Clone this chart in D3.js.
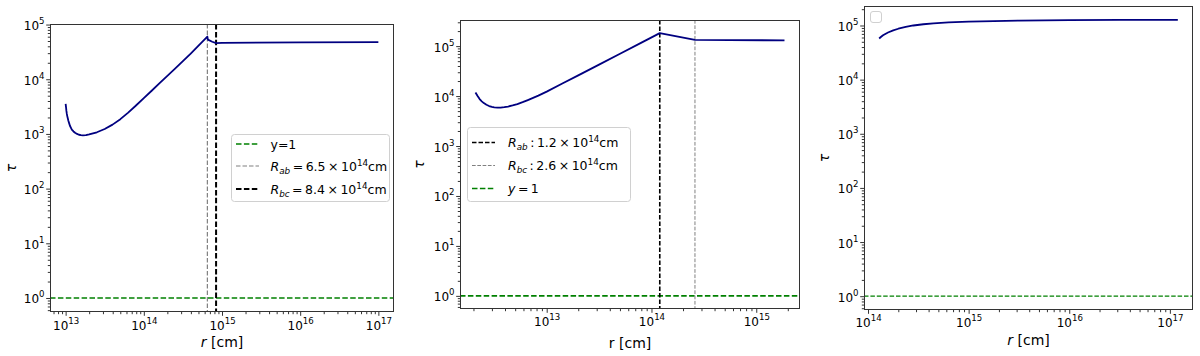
<!DOCTYPE html>
<html>
<head>
<meta charset="utf-8">
<script src="https://cdn.jsdelivr.net/npm/d3@7"></script>
<style>
  html, body { margin: 0; padding: 0; background: #fff; }
  svg { display: block; font-family: "DejaVu Sans", sans-serif; }
</style>
</head>
<body>
<svg id="chart" width="1200" height="356"></svg>
<script>
// ---------------- data ----------------
// Panel 1
const p1R   = [1.0e13, 1.012e13, 1.023e13, 1.035e13, 1.047e13, 1.065e13, 1.084e13, 1.11e13, 1.135e13, 1.17e13,
               1.2e13, 1.26e13, 1.32e13, 1.4e13, 1.48e13, 1.57e13, 1.66e13, 1.82e13, 2.0e13, 2.51e13,
               3.16e13, 3.98e13, 5.01e13, 6.31e13, 7.94e13, 1.0e14, 1.26e14, 1.58e14, 2.0e14, 2.51e14,
               3.16e14, 3.98e14, 5.01e14, 6.5e14, 6.6e14, 7.5e14, 8.4e14, 1.0e15, 1.0e16, 1.0e17];
const p1Tau = [3550, 3050, 2630, 2350, 2140, 1930, 1740, 1560, 1410, 1290,
               1200, 1110, 1050, 1000, 966, 950, 944, 948, 977, 1072,
               1230, 1479, 1862, 2455, 3311, 4519, 6166, 8414, 11482, 15668,
               21380, 29512, 41210, 60256, 53000, 48500, 45700, 46200, 47300, 47900];
const p1VLines = [6.5e14, 8.4e14];
const p1XTicks = [1e13, 1e14, 1e15, 1e16, 1e17];

// Panel 2
const p2R   = [2.09e12, 2.19e12, 2.29e12, 2.4e12, 2.51e12, 2.66e12, 2.82e12, 3.0e12, 3.16e12, 3.39e12,
               3.63e12, 3.94e12, 4.27e12, 4.73e12, 5.25e12, 5.89e12, 6.61e12, 7.41e12, 8.32e12, 1.0e13,
               1.41e13, 2.0e13, 3.16e13, 5.01e13, 7.94e13, 1.2e14, 2.6e14, 1.86e15];
const p2Tau = [11750, 10000, 8710, 7850, 7240, 6700, 6310, 6080, 5960, 5890,
               5890, 5990, 6170, 6500, 6920, 7550, 8320, 9200, 10230, 12300,
               17800, 26000, 42700, 70500, 116000, 182000, 133400, 130300];
const p2VLines = [1.2e14, 2.6e14];
const p2XTicks = [1e13, 1e14, 1e15];

// Panel 3
const p3R   = [1.29e14, 1.35e14, 1.41e14, 1.5e14, 1.58e14, 1.78e14, 2.0e14, 2.37e14, 2.82e14, 3.55e14,
               4.47e14, 6.31e14, 1.0e15, 1.78e15, 3.16e15, 1.0e16, 3.16e16, 1.2e17];
const p3Tau = [57500, 62000, 66100, 70500, 74100, 81000, 87100, 94000, 100000, 105500,
               109600, 114000, 117500, 120800, 123000, 125900, 126900, 127400];
const p3XTicks = [1e14, 1e15, 1e16, 1e17];

const yTicks = [1, 10, 100, 1e3, 1e4, 1e5];
const hLineValue = 1;

// ---------------- layout ----------------
const svg = d3.select("#chart");
const panels = [
  { x0: 50, x1: 394, y0: 24, y1: 312, xd: [10 ** 12.8, 10 ** 17.2], yd: [10 ** -0.256, 10 ** 5.01],
    r: p1R, tau: p1Tau, xTicks: p1XTicks, xLabBase: 17.5, xTitleY: 346.5, italicR: true, yTitleX: 15.5 },
  { x0: 460, x1: 800, y0: 20, y1: 309, xd: [10 ** 12.1725, 10 ** 15.4175], yd: [10 ** -0.263, 10 ** 5.523],
    r: p2R, tau: p2Tau, xTicks: p2XTicks, xLabBase: 16.5, xTitleY: 347.5, italicR: false, yTitleX: 424 },
  { x0: 864, x1: 1193, y0: 6, y1: 310, xd: [10 ** 13.96, 10 ** 17.23], yd: [10 ** -0.255, 10 ** 5.36],
    r: p3R, tau: p3Tau, xTicks: p3XTicks, xLabBase: 16.8, xTitleY: 345, italicR: true, yTitleX: 829 }
];

const AX = "#333";
function minorTicks(dom) {
  const out = [];
  const a = Math.floor(Math.log10(dom[0])), b = Math.ceil(Math.log10(dom[1]));
  for (let e = a; e <= b; e++) for (let k = 2; k <= 9; k++) {
    const v = k * 10 ** e;
    if (v >= dom[0] && v <= dom[1]) out.push(v);
  }
  return out;
}
function supLabel(sel) {
  sel.each(function (d) {
    const t = d3.select(this);
    t.text(null).attr("dy", null);
    t.append("tspan").text("10");
    t.append("tspan").attr("font-size", 8.6).attr("dy", -6).text(Math.round(Math.log10(d)));
  });
}

panels.forEach((P, i) => {
  const g = svg.append("g");
  P.x = d3.scaleLog().domain(P.xd).range([P.x0, P.x1]);
  P.y = d3.scaleLog().domain(P.yd).range([P.y1, P.y0]);
  const clipId = "clip" + i;
  svg.append("clipPath").attr("id", clipId).append("rect")
    .attr("x", P.x0).attr("y", P.y0).attr("width", P.x1 - P.x0).attr("height", P.y1 - P.y0);
  P.plot = g.append("g").attr("clip-path", `url(#${clipId})`);

  // minor ticks
  g.append("g").attr("transform", `translate(0,${P.y1})`).style("color", AX)
    .call(d3.axisBottom(P.x).tickValues(minorTicks(P.xd)).tickSize(2.2).tickSizeOuter(0).tickFormat(""))
    .call(s => s.select(".domain").remove());
  g.append("g").attr("transform", `translate(${P.x0},0)`).style("color", AX)
    .call(d3.axisLeft(P.y).tickValues(minorTicks(P.yd)).tickSize(2.2).tickSizeOuter(0).tickFormat(""))
    .call(s => s.select(".domain").remove());

  // major x
  g.append("g").attr("transform", `translate(0,${P.y1})`).style("color", AX)
    .call(d3.axisBottom(P.x).tickValues(P.xTicks).tickSize(3.8).tickSizeOuter(0).tickFormat(d => d))
    .call(s => s.select(".domain").remove())
    .call(s => s.selectAll(".tick text").attr("y", P.xLabBase).attr("fill", "#000")
      .attr("font-size", 12).attr("font-family", "DejaVu Sans").attr("text-anchor", "middle").call(supLabel))
    .attr("font-family", null).attr("font-size", null);

  // major y
  g.append("g").attr("transform", `translate(${P.x0},0)`).style("color", AX)
    .call(d3.axisLeft(P.y).tickValues(yTicks).tickSize(3.8).tickSizeOuter(0).tickFormat(d => d))
    .call(s => s.select(".domain").remove())
    .call(s => s.selectAll(".tick text").attr("x", -5.5).attr("y", 5).attr("fill", "#000")
      .attr("font-size", 12).attr("font-family", "DejaVu Sans").attr("text-anchor", "end").call(supLabel))
    .attr("font-family", null).attr("font-size", null);

  // frame
  g.append("rect").attr("x", P.x0 + 0.5).attr("y", P.y0 + 0.5)
    .attr("width", P.x1 - P.x0 - 1).attr("height", P.y1 - P.y0 - 1)
    .attr("fill", "none").attr("stroke", AX).attr("stroke-width", 1);

  // x title
  const xt = g.append("text").attr("x", (P.x0 + P.x1) / 2).attr("y", P.xTitleY)
    .attr("text-anchor", "middle").attr("font-size", 14);
  xt.append("tspan").attr("font-style", P.italicR ? "italic" : "normal").text("r");
  xt.append("tspan").text(" [cm]");
  // y title
  g.append("text").attr("transform", `translate(${P.yTitleX},${(P.y0 + P.y1) / 2}) rotate(-90)`)
    .attr("text-anchor", "middle").attr("font-size", 14).attr("font-style", "italic").text("τ");
});

function hline(P, color, w, dash) {
  P.plot.append("line").attr("x1", P.x0).attr("x2", P.x1)
    .attr("y1", P.y(hLineValue)).attr("y2", P.y(hLineValue))
    .attr("stroke", color).attr("stroke-width", w).attr("stroke-dasharray", dash);
}
function vline(P, v, color, w, dash) {
  P.plot.append("line").attr("x1", P.x(v)).attr("x2", P.x(v))
    .attr("y1", P.y0).attr("y2", P.y1)
    .attr("stroke", color).attr("stroke-width", w).attr("stroke-dasharray", dash);
}
function curve(P) {
  const line = d3.line().x((d, i) => P.x(P.r[i])).y((d, i) => P.y(P.tau[i]));
  P.plot.append("path").attr("d", line(P.tau)).attr("fill", "none")
    .attr("stroke", "#000080").attr("stroke-width", 1.8).attr("stroke-linejoin", "round");
}

const [P1, P2, P3] = panels;
// Panel 1
hline(P1, "#008000", 1.6, "5.5,2.4");
vline(P1, p1VLines[0], "#808080", 1.2, "4.5,2");
vline(P1, p1VLines[1], "#000", 2, "5.5,2.4");
curve(P1);
// Panel 2
hline(P2, "#008000", 1.6, "5.5,2.4");
vline(P2, p2VLines[0], "#000", 1.6, "4.5,2");
vline(P2, p2VLines[1], "#808080", 1, "3.7,1.6");
curve(P2);
// Panel 3
curve(P3);
hline(P3, "#008000", 1.3, "4.5,1.9");

// ---------------- legends ----------------
function legendFrame(x, y, w, h) {
  svg.append("rect").attr("x", x + 0.5).attr("y", y + 0.5).attr("width", w).attr("height", h)
    .attr("rx", 3).attr("fill", "#fff").attr("fill-opacity", 0.8).attr("stroke", "#d0d0d0");
}
function legendEntry(hx0, hx1, ty, color, w, dash, tx, build) {
  svg.append("line").attr("x1", hx0).attr("x2", hx1).attr("y1", ty).attr("y2", ty)
    .attr("stroke", color).attr("stroke-width", w).attr("stroke-dasharray", dash);
  const t = svg.append("text").attr("x", tx).attr("y", ty + 4.6).attr("font-size", 12.5);
  build(t);
}
function rLabel(t, sub, sep, val) {
  t.append("tspan").attr("font-style", "italic").text("R");
  t.append("tspan").attr("font-style", "italic").attr("font-size", 8.8).attr("dy", 3).text(sub);
  t.append("tspan").attr("dy", -3).text(sep + val + "\u2009×\u200910");
  t.append("tspan").attr("font-size", 8.8).attr("dy", -5).text("14");
  t.append("tspan").attr("dy", 5).text("cm");
}

const legend1Labels = ["y=1", "6.5", "8.4"];
legendFrame(231, 134, 158, 67);
legendEntry(236, 259, 144, "#008000", 1.6, "5.5,2.4", 270.5, t => t.text(legend1Labels[0]));
legendEntry(236, 259, 166, "#808080", 1.2, "4.5,2", 270.5, t => rLabel(t, "ab", "\u2009=\u2009", legend1Labels[1]));
legendEntry(236, 259, 189, "#000", 2, "5.5,2.4", 270.5, t => rLabel(t, "bc", "\u2009=\u2009", legend1Labels[2]));

const legend2Labels = ["1.2", "2.6", "1"];
legendFrame(467, 127, 163, 74);
legendEntry(472, 495, 142.5, "#000", 1.6, "4.5,2", 508, t => rLabel(t, "ab", "\u2009:\u2009", legend2Labels[0]));
legendEntry(472, 495, 165.5, "#808080", 1, "3.7,1.6", 508, t => rLabel(t, "bc", "\u2009:\u2009", legend2Labels[1]));
legendEntry(472, 495, 188.5, "#008000", 1.6, "5.5,2.4", 508, t => {
  t.append("tspan").attr("font-style", "italic").text("y");
  t.append("tspan").text("\u2009=\u2009" + legend2Labels[2]);
});

// empty legend in panel 3
svg.append("rect").attr("x", 870.5).attr("y", 11.5).attr("width", 11).attr("height", 11)
  .attr("rx", 2.5).attr("fill", "#fff").attr("fill-opacity", 0.8).attr("stroke", "#d0d0d0");
</script>
</body>
</html>
